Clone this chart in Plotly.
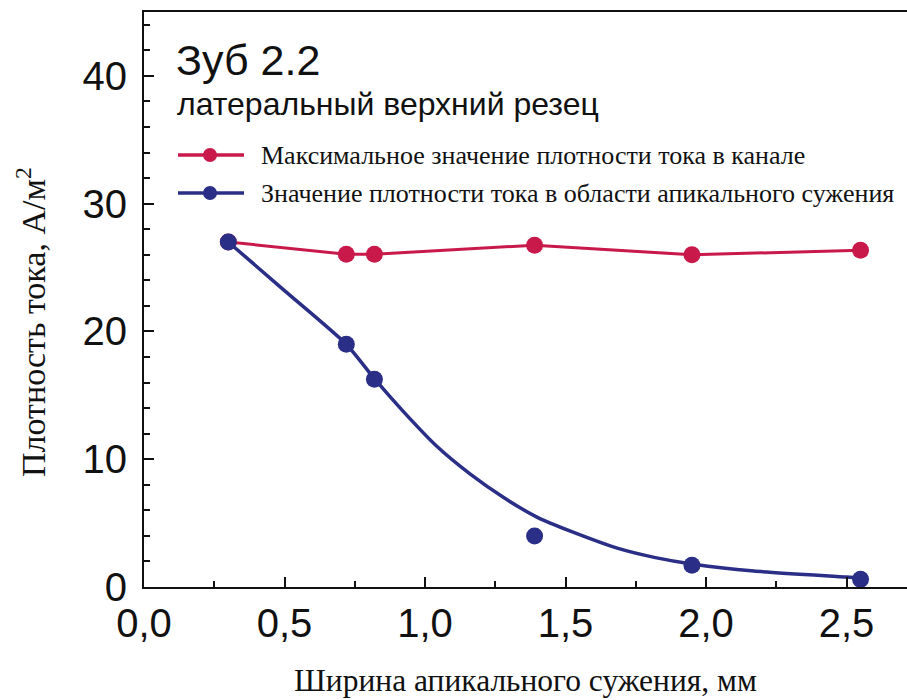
import plotly.graph_objects as go

# Measured points
width_mm = [0.30, 0.72, 0.82, 1.39, 1.95, 2.55]
max_density = [27.0, 26.05, 26.05, 26.75, 26.0, 26.35]
apical_density = [27.0, 19.0, 16.25, 4.0, 1.7, 0.6]

# Fitted curve for the apical narrowing series
fit_x = [0.30, 0.50, 0.72, 0.82, 0.92, 1.04, 1.16, 1.28, 1.40, 1.52, 1.69, 1.82, 1.95, 2.17, 2.50, 2.55]
fit_y = [27.0, 23.2, 19.0, 16.3, 13.8, 11.05, 8.85, 7.0, 5.45, 4.35, 3.0, 2.3, 1.8, 1.25, 0.78, 0.7]

# Axis ticks
x_ticks = [0.0, 0.5, 1.0, 1.5, 2.0, 2.5]
x_labels = ["0,0", "0,5", "1,0", "1,5", "2,0", "2,5"]
y_ticks = [0, 10, 20, 30, 40]

RED = "#C8194A"
BLUE = "#2A2E86"
INK = "#111111"
SANS = "Liberation Sans, Arial, sans-serif"
SERIF = "Liberation Serif, Times New Roman, serif"

fig = go.Figure()

fig.add_trace(go.Scatter(
    x=width_mm, y=max_density, mode="lines+markers",
    line=dict(color=RED, width=3),
    marker=dict(color=RED, size=17),
    showlegend=False,
))
fig.add_trace(go.Scatter(
    x=fit_x, y=fit_y, mode="lines",
    line=dict(color=BLUE, width=3.5, shape="spline", smoothing=0.6),
    showlegend=False,
))
fig.add_trace(go.Scatter(
    x=width_mm, y=apical_density, mode="markers",
    marker=dict(color=BLUE, size=17),
    showlegend=False,
))

# Plot-area geometry (pixels) used to place the legend and captions
L, R, T, B = 144, 907, 12, 587


def px(x):
    return (x - L) / (R - L)


def py(y):
    return (B - y) / (B - T)


shapes = []
annotations = []
legend_items = [
    (155, RED, "Максимальное значение плотности тока в канале"),
    (193, BLUE, "Значение плотности тока в области апикального сужения"),
]
for yy, col, txt in legend_items:
    shapes.append(dict(type="line", xref="paper", yref="paper",
                       x0=px(178), x1=px(244), y0=py(yy), y1=py(yy),
                       line=dict(color=col, width=3.5)))
    shapes.append(dict(type="circle", xref="paper", yref="paper",
                       x0=px(203), x1=px(217), y0=py(yy + 7), y1=py(yy - 7),
                       fillcolor=col, line=dict(color=col, width=0)))
    annotations.append(dict(xref="paper", yref="paper", x=px(259), y=py(yy),
                            xanchor="left", yanchor="middle", showarrow=False,
                            text=txt, font=dict(family=SERIF, size=26, color=INK)))

annotations.append(dict(xref="paper", yref="paper", x=px(174), y=py(60),
                        xanchor="left", yanchor="middle", showarrow=False,
                        text="Зуб 2.2", font=dict(family=SANS, size=43, color=INK)))
annotations.append(dict(xref="paper", yref="paper", x=px(175), y=py(104),
                        xanchor="left", yanchor="middle", showarrow=False,
                        text="латеральный верхний резец",
                        font=dict(family=SANS, size=32, color=INK)))

# Y-axis caption, placed as a rotated annotation
annotations.append(dict(xref="paper", yref="paper", x=px(31), y=py(322),
                        xanchor="center", yanchor="middle", showarrow=False,
                        textangle=-90,
                        text="Плотность тока, А/м<sup>2</sup>",
                        font=dict(family=SERIF, size=34, color=INK)))

fig.update_layout(
    width=907, height=700,
    margin=dict(l=L, r=907 - R, t=T, b=700 - B),
    paper_bgcolor="white", plot_bgcolor="white",
    shapes=shapes, annotations=annotations,
    showlegend=False,
)

fig.update_xaxes(
    range=[0, (R - L) / 281.0],
    tickvals=x_ticks, ticktext=x_labels,
    ticks="inside", ticklen=10, tickwidth=2, tickcolor=INK,
    minor=dict(dtick=0.25, tick0=0, ticks="inside", ticklen=6, tickwidth=2, tickcolor=INK),
    showline=True, linecolor=INK, linewidth=2, mirror=True,
    showgrid=False, zeroline=False,
    tickfont=dict(family=SANS, size=40, color=INK),
    title=dict(text="Ширина апикального сужения, мм",
               font=dict(family=SERIF, size=31.5, color=INK), standoff=25),
)
fig.update_yaxes(
    range=[0, 45],
    tickvals=y_ticks,
    ticks="inside", ticklen=10, tickwidth=2, tickcolor=INK,
    minor=dict(dtick=2, tick0=0, ticks="inside", ticklen=6, tickwidth=2, tickcolor=INK),
    showline=True, linecolor=INK, linewidth=2,
    showgrid=False, zeroline=False,
    ticklabelstandoff=7,
    tickfont=dict(family=SANS, size=40, color=INK),
)

fig.write_html("out.html")
